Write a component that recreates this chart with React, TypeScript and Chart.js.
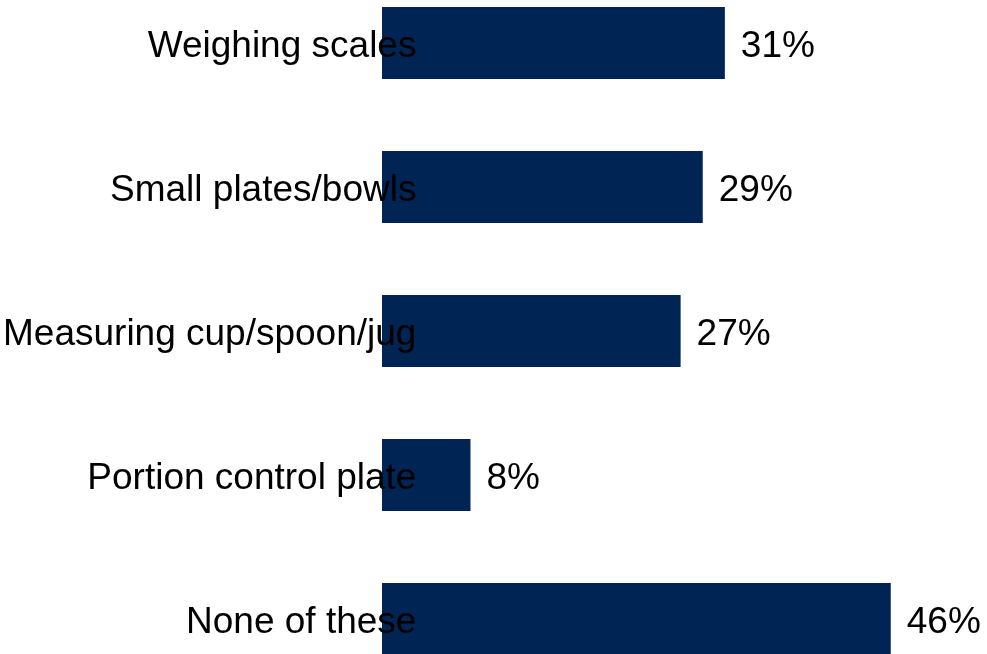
import React, { useEffect, useRef } from "react";
import { Chart, registerables } from "chart.js";

Chart.register(...registerables);

const categories = [
  "Weighing scales",
  "Small plates/bowls",
  "Measuring cup/spoon/jug",
  "Portion control plate",
  "None of these",
];
const values = [31, 29, 27, 8, 46];
const valueLabels = ["31%", "29%", "27%", "8%", "46%"];

const FONT = "'Liberation Sans', Arial, sans-serif";

const valueLabelPlugin = {
  id: "valueLabels",
  afterDatasetsDraw(chart: any) {
    const ctx = chart.ctx;
    const meta = chart.getDatasetMeta(0);
    ctx.save();
    ctx.font = `37px ${FONT}`;
    ctx.fillStyle = "#000000";
    ctx.textAlign = "left";
    ctx.textBaseline = "middle";
    meta.data.forEach((bar: any, i: number) => {
      ctx.fillText(valueLabels[i], bar.x + 16, bar.y + 4);
    });
    ctx.restore();
  },
};

export default function App() {
  const ref = useRef<HTMLCanvasElement | null>(null);
  useEffect(() => {
    if (!ref.current) return;
    const chart = new Chart(ref.current, {
      type: "bar",
      data: {
        labels: categories,
        datasets: [
          {
            data: values,
            backgroundColor: "#002454",
            borderWidth: 0,
            barPercentage: 0.5,
            categoryPercentage: 1,
          },
        ],
      },
      options: {
        indexAxis: "y",
        animation: false,
        responsive: false,
        maintainAspectRatio: false,
        layout: { padding: { left: 0, right: 52, top: 0, bottom: 0 } },
        plugins: {
          legend: { display: false },
          tooltip: { enabled: false },
        },
        scales: {
          x: {
            display: false,
            min: 0,
            max: 50,
          },
          y: {
            grid: { display: false, drawTicks: false },
            border: { display: false },
            ticks: {
              z: 1,
              mirror: true,
              crossAlign: "far",
              color: "#000000",
              font: { family: FONT, size: 37 },
              padding: -379,
              labelOffset: 4,
              autoSkip: false,
            },
            afterFit(scale: any) {
              scale.width = 382;
            },
          },
        },
      },
      plugins: [valueLabelPlugin],
    });
    return () => chart.destroy();
  }, []);
  return (
    <div
      style={{
        position: "fixed",
        left: 0,
        top: 0,
        width: 987,
        height: 654,
        overflow: "hidden",
        background: "#ffffff",
      }}
    >
      <canvas
        ref={ref}
        width={987}
        height={720}
        style={{ position: "absolute", left: 0, top: -29, width: 987, height: 720 }}
      />
    </div>
  );
}
